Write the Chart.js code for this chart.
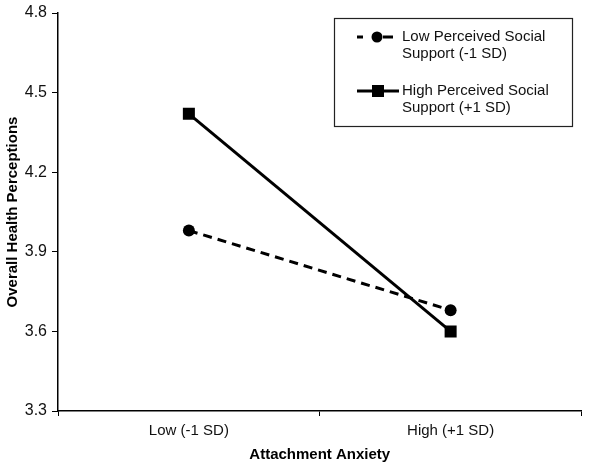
<!DOCTYPE html>
<html>
<head>
<meta charset="utf-8">
<script src="https://cdn.jsdelivr.net/npm/chart.js@4/dist/chart.umd.min.js"></script>
<style>
html,body{margin:0;padding:0;background:#fff;}
#wrap{position:relative;width:590px;height:467px;}
</style>
</head>
<body>
<div id="wrap"><canvas id="c" width="590" height="467"></canvas></div>
<script>
const categories = ["Low (-1 SD)", "High (+1 SD)"];
const lowSupport = [3.98, 3.68];
const highSupport = [4.42, 3.60];
const yTicks = [3.3, 3.6, 3.9, 4.2, 4.5, 4.8];
const seriesNames = [["Low Perceived Social", "Support (-1 SD)"], ["High Perceived Social", "Support (+1 SD)"]];
const xTitle = "Attachment Anxiety";
const yTitle = "Overall Health Perceptions";

const FONT = "'Liberation Sans', Arial, sans-serif";

const legendPlugin = {
  id: 'boxLegend',
  afterDraw(chart) {
    const ctx = chart.ctx;
    ctx.save();
    const bx = 334.5, by = 18.5, bw = 238, bh = 108;
    ctx.fillStyle = '#fff';
    ctx.fillRect(bx, by, bw, bh);
    ctx.strokeStyle = '#222';
    ctx.lineWidth = 1.2;
    ctx.strokeRect(bx, by, bw, bh);
    const rows = [37, 91];
    chart.data.datasets.forEach((ds, i) => {
      const y = rows[i];
      ctx.strokeStyle = '#000';
      ctx.lineWidth = 3;
      ctx.beginPath();
      if (ds.borderDash && ds.borderDash.length) {
        ctx.moveTo(357, y); ctx.lineTo(363, y);
        ctx.moveTo(383, y); ctx.lineTo(393, y);
      } else {
        ctx.moveTo(357, y); ctx.lineTo(399, y);
      }
      ctx.stroke();
      ctx.fillStyle = '#000';
      if (ds.pointStyle === 'rect') {
        ctx.fillRect(372, y - 6, 12, 12);
      } else {
        ctx.beginPath(); ctx.arc(377, y, 5.5, 0, Math.PI * 2); ctx.fill();
      }
      ctx.fillStyle = '#111';
      ctx.font = '15px ' + FONT;
      ctx.textBaseline = 'middle';
      ctx.textAlign = 'left';
      const lines = seriesNames[i];
      lines.forEach((t, k) => ctx.fillText(t, 402, y + k * 17));
    });
    ctx.restore();
  }
};

new Chart(document.getElementById('c'), {
  type: 'line',
  data: {
    labels: categories,
    datasets: [
      {
        label: seriesNames[0].join(' '),
        data: lowSupport,
        borderColor: '#000',
        backgroundColor: '#000',
        borderWidth: 3,
        borderDash: [9, 6],
        pointStyle: 'circle',
        pointRadius: 6,
        pointBackgroundColor: '#000',
        pointBorderWidth: 0,
        tension: 0
      },
      {
        label: seriesNames[1].join(' '),
        data: highSupport,
        borderColor: '#000',
        backgroundColor: '#000',
        borderWidth: 3,
        pointStyle: 'rect',
        pointRadius: 8.5,
        pointBackgroundColor: '#000',
        pointBorderWidth: 0,
        tension: 0
      }
    ]
  },
  options: {
    responsive: false,
    animation: false,
    devicePixelRatio: 1,
    layout: { padding: { left: 4, top: 11, right: 7, bottom: 3 } },
    plugins: { legend: { display: false }, tooltip: { enabled: false } },
    scales: {
      x: {
        type: 'category',
        offset: true,
        grid: { offset: true, drawOnChartArea: false, drawTicks: true, tickLength: 5, color: '#000', lineWidth: 1 },
        border: { color: '#000', width: 1.5 },
        ticks: { color: '#111', font: { family: FONT, size: 15 }, padding: 6, maxRotation: 0 },
        title: { display: true, text: xTitle, color: '#000', font: { family: FONT, size: 15, weight: 'bold' }, padding: { top: 2, bottom: 0 } },
        afterFit(s) { s.height = 53; }
      },
      y: {
        min: 3.3,
        max: 4.8,
        afterBuildTicks(s) { s.ticks = yTicks.map(v => ({ value: v })); },
        grid: { drawOnChartArea: false, drawTicks: true, tickLength: 6, color: '#000', lineWidth: 1 },
        border: { color: '#000', width: 1.5 },
        ticks: { color: '#111', font: { family: FONT, size: 16, lineHeight: 1 }, padding: 5, callback: v => Number(v).toFixed(1) },
        title: { display: true, text: yTitle, color: '#000', font: { family: FONT, size: 15, weight: 'bold' }, padding: { top: 0, bottom: 4 } },
        afterFit(s) { s.width = 54; }
      }
    }
  },
  plugins: [legendPlugin]
});
</script>
</body>
</html>
